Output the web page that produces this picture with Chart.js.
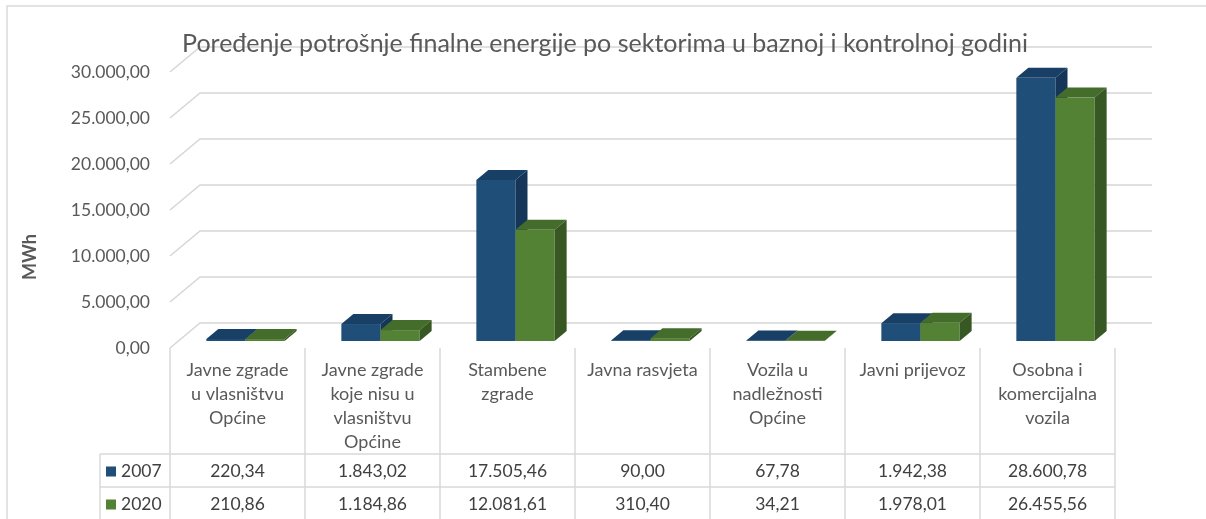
<!DOCTYPE html>
<html>
<head>
<meta charset="utf-8">
<script src="https://cdn.jsdelivr.net/npm/chart.js@4"></script>
<style>
  html, body { margin: 0; padding: 0; background: #fff; }
</style>
</head>
<body>
<canvas id="energyChart" width="1206" height="519"></canvas>
<script>
// data
const categories = [
    ['Javne zgrade', 'u vlasništvu', 'Općine'],
    ['Javne zgrade', 'koje nisu u', 'vlasništvu', 'Općine'],
    ['Stambene', 'zgrade'],
    ['Javna rasvjeta'],
    ['Vozila u', 'nadležnosti', 'Općine'],
    ['Javni prijevoz'],
    ['Osobna i', 'komercijalna', 'vozila']
];
const years = ['2007', '2020'];
const values2007 = [220.34, 1843.02, 17505.46, 90.00, 67.78, 1942.38, 28600.78];
const values2020 = [210.86, 1184.86, 12081.61, 310.40, 34.21, 1978.01, 26455.56];
const yTickLabels = ['0,00', '5.000,00', '10.000,00', '15.000,00', '20.000,00', '25.000,00', '30.000,00'];
const chartTitle = 'Poređenje potrošnje finalne energije po sektorima u baznoj i kontrolnoj godini';
const yTitle = 'MWh';

// look
const FONT = 'Lato, "Open Sans", sans-serif';
const GRID = '#d6d6d6';
const faces = [
    { front: '#1f4e79', top: '#183f65', side: '#153658' },
    { front: '#548235', top: '#446c2b', side: '#385823' }
];
const WALL_DX = 30, WALL_DY = 25;   // depth of the floor / back wall
const BAR_OX = 8, BAR_OY = 7;       // bar front plane inside the floor
const BAR_DX = 12, BAR_DY = 10;     // bar depth

function fmt(v) {
    const parts = v.toFixed(2).split('.');
    return parts[0].replace(/\B(?=(\d{3})+(?!\d))/g, '.') + ',' + parts[1];
}

const chart3d = {
    id: 'chart3d',
    beforeDraw(chart) {
        const ctx = chart.ctx;
        ctx.save();
        ctx.strokeStyle = '#dadada';
        ctx.lineWidth = 1.5;
        ctx.beginPath();
        ctx.moveTo(7, chart.height);
        ctx.lineTo(7, 6);
        ctx.lineTo(chart.width, 6);
        ctx.stroke();
        ctx.restore();
    },
    beforeDatasetsDraw(chart) {
        // back wall gridlines with the diagonal on the left side
        const { ctx, chartArea: a, scales: { y } } = chart;
        ctx.save();
        ctx.strokeStyle = GRID;
        ctx.lineWidth = 1.5;
        y.ticks.forEach(t => {
            const py = y.getPixelForValue(t.value);
            ctx.beginPath();
            ctx.moveTo(a.left, py);
            ctx.lineTo(a.left + WALL_DX, py - WALL_DY);
            ctx.lineTo(a.right + 37, py - WALL_DY);
            ctx.stroke();
        });
        // title sits over the top gridline
        ctx.fillStyle = '#595959';
        ctx.font = '25px ' + FONT;
        ctx.textAlign = 'center';
        ctx.textBaseline = 'middle';
        ctx.fillText(chartTitle, 605, 44);
        ctx.restore();
    },
    beforeDatasetDraw() {
        return false; // bars are drawn as boxes below
    },
    afterDatasetsDraw(chart) {
        const ctx = chart.ctx;
        ctx.save();
        for (let i = 0; i < chart.data.labels.length; i++) {
            chart.data.datasets.forEach((ds, d) => {
                const bar = chart.getDatasetMeta(d).data[i];
                const { x, y, base, width } = bar.getProps(['x', 'y', 'base', 'width'], true);
                const l = x - width / 2 + BAR_OX, r = x + width / 2 + BAR_OX;
                const t = y - BAR_OY, b = base - BAR_OY;
                const c = faces[d];
                ctx.fillStyle = c.front;
                ctx.fillRect(l, t, r - l, b - t);
                ctx.fillStyle = c.top;
                ctx.beginPath();
                ctx.moveTo(l, t);
                ctx.lineTo(l + BAR_DX, t - BAR_DY);
                ctx.lineTo(r + BAR_DX, t - BAR_DY);
                ctx.lineTo(r, t);
                ctx.closePath();
                ctx.fill();
                ctx.fillStyle = c.side;
                ctx.beginPath();
                ctx.moveTo(r, t);
                ctx.lineTo(r + BAR_DX, t - BAR_DY);
                ctx.lineTo(r + BAR_DX, b - BAR_DY);
                ctx.lineTo(r, b);
                ctx.closePath();
                ctx.fill();
            });
        }
        ctx.restore();
    },
    afterDraw(chart) {
        const { ctx, chartArea: a, scales: { x } } = chart;
        const n = chart.data.labels.length;
        const colW = (x.right - x.left) / n;
        const top = a.bottom;
        const rowTop = top + 106;
        const rowH = 33;
        const tableLeft = 100;

        ctx.save();
        // y axis title
        ctx.fillStyle = '#595959';
        ctx.font = 'bold 18px ' + FONT;
        ctx.textAlign = 'center';
        ctx.textBaseline = 'middle';
        ctx.translate(30, 257);
        ctx.rotate(-Math.PI / 2);
        ctx.fillText(yTitle, 0, 0);
        ctx.setTransform(1, 0, 0, 1, 0, 0);

        // data table lines
        ctx.strokeStyle = '#d9d9d9';
        ctx.lineWidth = 1.5;
        ctx.beginPath();
        for (let i = 0; i <= n; i++) {
            const px = x.getPixelForValue(i) - colW / 2;
            ctx.moveTo(px, top);
            ctx.lineTo(px, chart.height);
        }
        ctx.moveTo(tableLeft, rowTop);
        ctx.lineTo(tableLeft, chart.height);
        ctx.moveTo(tableLeft, rowTop);
        ctx.lineTo(x.right, rowTop);
        ctx.moveTo(tableLeft, rowTop + rowH);
        ctx.lineTo(x.right, rowTop + rowH);
        ctx.stroke();

        // data table rows
        ctx.font = '17.5px ' + FONT;
        ctx.textBaseline = 'middle';
        chart.data.datasets.forEach((ds, d) => {
            const cy = rowTop + rowH * d + rowH / 2 + 1;
            ctx.fillStyle = faces[d].front;
            ctx.fillRect(106, cy - 5, 10, 10);
            ctx.fillStyle = '#404040';
            ctx.textAlign = 'left';
            ctx.fillText(ds.label, 121, cy);
            ctx.textAlign = 'center';
            ds.data.forEach((v, i) => {
                ctx.fillText(fmt(v), x.getPixelForValue(i), cy);
            });
        });
        ctx.restore();
    }
};

const ctx = document.getElementById('energyChart').getContext('2d');
new Chart(ctx, {
    type: 'bar',
    data: {
        labels: categories,
        datasets: [{
            label: years[0],
            data: values2007,
            backgroundColor: faces[0].front
        }, {
            label: years[1],
            data: values2020,
            backgroundColor: faces[1].front
        }]
    },
    options: {
        responsive: false,
        animation: false,
        layout: { padding: { left: 14, right: 91, top: 72, bottom: 0 } },
        datasets: {
            bar: { categoryPercentage: 0.58, barPercentage: 1 }
        },
        scales: {
            x: {
                grid: { display: false, drawTicks: false },
                border: { display: false },
                ticks: {
                    autoSkip: false,
                    maxRotation: 0,
                    minRotation: 0,
                    padding: 10,
                    color: '#595959',
                    font: { family: FONT, size: 18, lineHeight: 24 / 18 }
                },
                afterFit(s) { s.height = 171; }
            },
            y: {
                min: 0,
                max: 30000,
                grid: { display: false, drawTicks: false },
                border: { display: false },
                ticks: {
                    stepSize: 5000,
                    padding: 20,
                    color: '#595959',
                    font: { family: FONT, size: 17.5 },
                    callback: (value, index) => yTickLabels[index]
                },
                afterFit(s) { s.width = 156; }
            }
        },
        plugins: {
            legend: { display: false },
            tooltip: { enabled: false },
            title: { display: false }
        }
    },
    plugins: [chart3d]
});
</script>
</body>
</html>
